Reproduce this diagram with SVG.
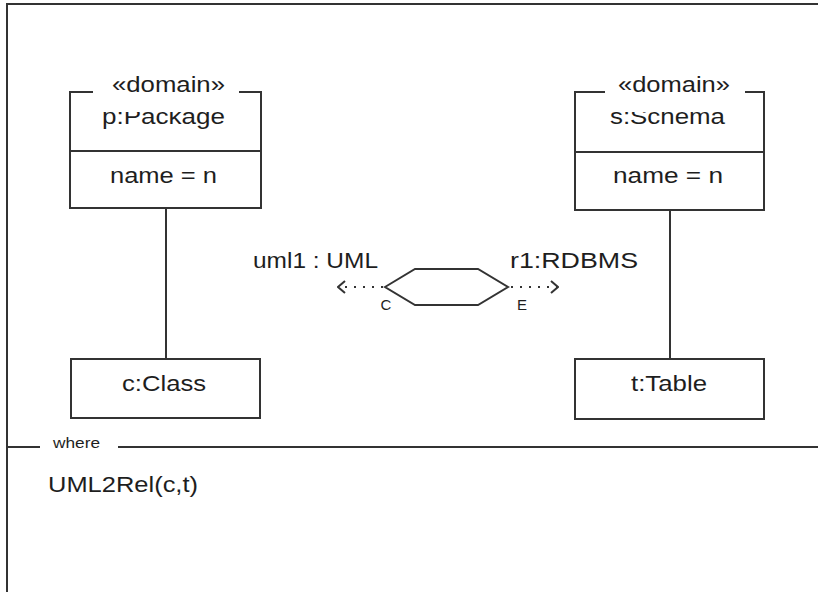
<svg xmlns="http://www.w3.org/2000/svg" width="818" height="592" viewBox="0 0 818 592">
<style>
.ln{fill:none;stroke:#333;stroke-width:2}
.box{fill:#fff;stroke:#333;stroke-width:2}
.t{font-family:"Liberation Sans",Arial,sans-serif;font-size:22px;fill:#1e1e1e}
.s{font-family:"Liberation Sans",Arial,sans-serif;font-size:15px;fill:#1e1e1e}
.mask{fill:#fff;stroke:none}
.dot{fill:none;stroke:#333;stroke-width:2;stroke-dasharray:2 7}
</style>
<defs>
<marker id="open" viewBox="0 0 10 14" refX="9" refY="7" markerWidth="10" markerHeight="14" markerUnits="userSpaceOnUse" orient="auto">
<path d="M2,1 L9,7 L2,13" fill="none" stroke="#333" stroke-width="2"/>
</marker>
</defs>
<rect width="818" height="592" fill="#fff"/>
<g id="frame">
<path class="ln" d="M7,592 V4 H818"/>
<path class="ln" d="M7,447 H40 M118,447 H818"/>
<text class="s" x="53" y="448" textLength="47" lengthAdjust="spacingAndGlyphs">where</text>
<text class="t" x="48" y="492" textLength="150" lengthAdjust="spacingAndGlyphs">UML2Rel(c,t)</text>
</g>
<g id="connectors">
<line class="ln" x1="166" y1="208" x2="166" y2="359"/>
<line class="ln" x1="670" y1="210" x2="670" y2="359"/>
<path class="dot" d="M383,287 H338" marker-end="url(#open)"/>
<path class="dot" d="M511,287 H558" marker-end="url(#open)"/>
</g>
<g id="p-package">
<rect class="box" x="70" y="92" width="191" height="116"/>
<line class="ln" x1="70" y1="151" x2="261" y2="151"/>
<text class="t" x="163.5" y="124" text-anchor="middle" textLength="123" lengthAdjust="spacingAndGlyphs">p:Package</text>
<text class="t" x="163.5" y="183" text-anchor="middle" textLength="107" lengthAdjust="spacingAndGlyphs">name = n</text>
<rect class="mask" x="93" y="70" width="146" height="42"/>
<text class="t" x="168.5" y="92" text-anchor="middle" textLength="113" lengthAdjust="spacingAndGlyphs">«domain»</text>
</g>
<g id="s-schema">
<rect class="box" x="575" y="92" width="189" height="118"/>
<line class="ln" x1="575" y1="152" x2="764" y2="152"/>
<text class="t" x="667.5" y="124" text-anchor="middle" textLength="115" lengthAdjust="spacingAndGlyphs">s:Schema</text>
<text class="t" x="668" y="183" text-anchor="middle" textLength="110" lengthAdjust="spacingAndGlyphs">name = n</text>
<rect class="mask" x="605" y="70" width="140" height="42"/>
<text class="t" x="674" y="92" text-anchor="middle" textLength="112" lengthAdjust="spacingAndGlyphs">«domain»</text>
</g>
<g id="c-class">
<rect class="box" x="71" y="359" width="189" height="59"/>
<text class="t" x="164" y="391" text-anchor="middle" textLength="84" lengthAdjust="spacingAndGlyphs">c:Class</text>
</g>
<g id="t-table">
<rect class="box" x="575" y="359" width="189" height="60"/>
<text class="t" x="669" y="391" text-anchor="middle" textLength="76" lengthAdjust="spacingAndGlyphs">t:Table</text>
</g>
<g id="relation">
<polygon class="ln" points="385,287 415,269 478,269 508,287 478,305 415,305"/>
<text class="t" x="253" y="268" textLength="125" lengthAdjust="spacingAndGlyphs">uml1 : UML</text>
<text class="t" x="510" y="268" textLength="128" lengthAdjust="spacingAndGlyphs">r1:RDBMS</text>
<text class="s" x="386" y="310" text-anchor="middle">C</text>
<text class="s" x="522" y="310" text-anchor="middle">E</text>
</g>
</svg>
